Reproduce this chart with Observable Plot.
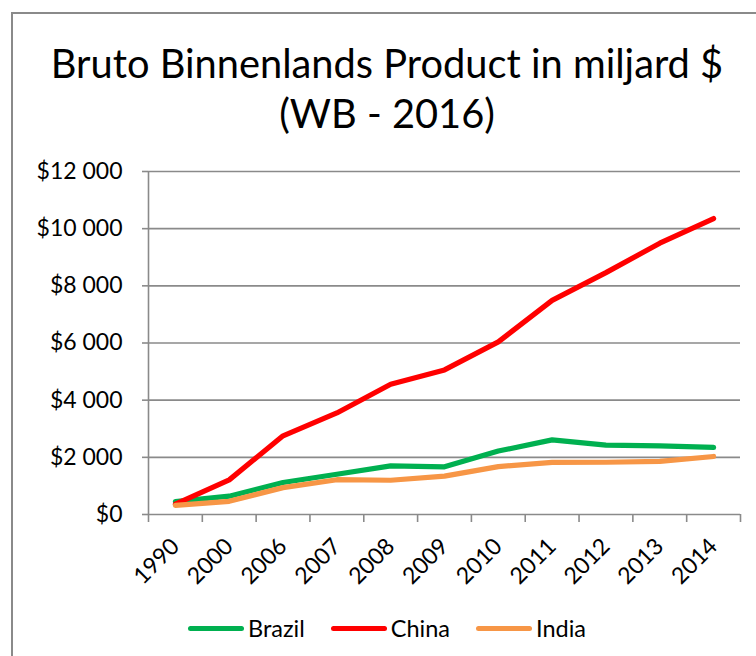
<!DOCTYPE html>
<html><head><meta charset="utf-8">
<script src="https://cdn.jsdelivr.net/npm/d3@7"></script>
<script src="https://cdn.jsdelivr.net/npm/@observablehq/plot@0.6"></script>
<style>
body{margin:0;background:#fff;font-family:Lato,sans-serif;color:#000}
#wrap{position:relative;width:756px;height:656px;overflow:hidden;background:#fff}
#frame{position:absolute;left:11px;top:12px;width:800px;height:700px;border-left:2px solid #8a8a8a;border-top:2px solid #8a8a8a;box-sizing:border-box}
#title{position:absolute;left:16px;top:38px;width:742px;text-align:center;font-size:39.8px;line-height:50px;white-space:nowrap}
#chart{position:absolute;left:0;top:150px}
#legend{position:absolute;left:16px;top:600px;width:742px;height:56px;display:flex;justify-content:center;align-items:center;font-size:23.5px}
.item{display:flex;align-items:center;margin:0 13px}
.sw{width:56px;height:5px;border-radius:3px;margin-right:4px}
</style>
</head><body>
<div id="wrap">
  <div id="frame"></div>
  <div id="title"></div>
  <div id="chart"></div>
  <div id="legend"></div>
</div>
<script>
const titleLines = ["Bruto Binnenlands Product in miljard $", "(WB - 2016)"];
const years = ["1990","2000","2006","2007","2008","2009","2010","2011","2012","2013","2014"];
const seriesNames = ["Brazil","China","India"];
const seriesColors = ["#00B050","#FF0000","#F79646"];
const brazil = [450, 640, 1120, 1410, 1700, 1667, 2220, 2610, 2430, 2400, 2350];
const china  = [361, 1211, 2752, 3552, 4558, 5059, 6040, 7492, 8462, 9491, 10355];
const india  = [320, 462, 940, 1217, 1199, 1342, 1676, 1823, 1828, 1857, 2030];
const yTicks = [0, 2000, 4000, 6000, 8000, 10000, 12000];

const values = [brazil, china, india];
const rows = [];
seriesNames.forEach((name, s) => years.forEach((yr, i) => rows.push({series: name, i, year: yr, value: values[s][i]})));

document.getElementById("title").innerHTML = titleLines.map(t => `<div>${t.replace(/\$/g,"&#36;")}</div>`).join("");

const fmt = d => "$" + d3.format(",")(d).replace(/,/g, " ");
const xDomain = [-0.5, years.length - 0.5];
const boundaries = d3.range(years.length + 1).map(i => i - 0.5);
const grey = "#8a8a8a";

const chart = Plot.plot({
  width: 756, height: 450,
  marginLeft: 148, marginRight: 16, marginTop: 21, marginBottom: 86,
  style: {fontFamily: "Lato, sans-serif", fontSize: "23px", overflow: "visible", background: "transparent"},
  x: {domain: xDomain},
  y: {domain: [0, 12000]},
  color: {domain: seriesNames, range: seriesColors},
  marks: [
    Plot.gridY(yTicks, {stroke: grey, strokeOpacity: 1, strokeWidth: 1.6}),
    Plot.ruleX([xDomain[0]], {stroke: grey, strokeWidth: 1.6}),
    Plot.axisY({ticks: yTicks, tickSize: 6, tickPadding: 20, tickFormat: fmt, stroke: grey, strokeWidth: 1.6, fill: "#000", label: null, fontSize: 23}),
    Plot.axisX({ticks: boundaries, tickSize: 8, tickFormat: () => "", stroke: grey, strokeWidth: 1.6, label: null}),
    Plot.axisX({ticks: d3.range(years.length), tickSize: 0, tickPadding: 28, tickRotate: -45, tickFormat: i => years[i], fill: "#000", label: null, fontSize: 23}),
    Plot.line(rows, {x: "i", y: "value", z: "series", stroke: "series", strokeWidth: 5.2, strokeLinecap: "round", strokeLinejoin: "round"})
  ]
});
document.getElementById("chart").appendChild(chart);

document.getElementById("legend").innerHTML = seriesNames.map((n, s) =>
  `<div class="item"><div class="sw" style="background:${seriesColors[s]}"></div><span>${n}</span></div>`).join("");
</script>
</body></html>
